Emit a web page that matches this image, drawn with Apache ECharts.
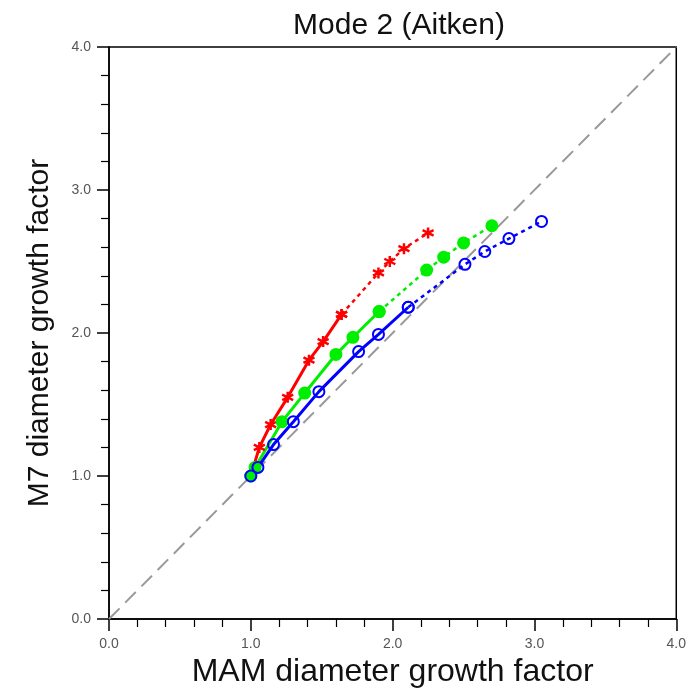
<!DOCTYPE html>
<html>
<head>
<meta charset="utf-8">
<script src="https://cdn.jsdelivr.net/npm/echarts@6/dist/echarts.min.js"></script>
<style>
html,body{margin:0;padding:0;background:#fff;}
#chart{width:689px;height:696px;}
</style>
</head>
<body>
<div id="chart"></div>
<script>
// MAM vs M7 growth factor, mode 2
var redX = [1.0, 1.06, 1.14, 1.26, 1.41, 1.51, 1.64, 1.90, 1.98, 2.08, 2.25];
var redY = [1.0, 1.20, 1.36, 1.55, 1.81, 1.94, 2.13, 2.42, 2.50, 2.59, 2.70];
var greenX = [1.0, 1.03, 1.22, 1.38, 1.60, 1.72, 1.905, 2.24, 2.36, 2.50, 2.70];
var greenY = [1.0, 1.06, 1.38, 1.58, 1.85, 1.97, 2.15, 2.44, 2.53, 2.63, 2.75];
var blueX = [1.0, 1.05, 1.16, 1.30, 1.48, 1.76, 1.90, 2.11, 2.51, 2.65, 2.82, 3.05];
var blueY = [1.0, 1.06, 1.22, 1.38, 1.59, 1.87, 1.99, 2.18, 2.48, 2.57, 2.66, 2.78];
// last index of the solid part of each curve
var redSplit = 6, greenSplit = 6, blueSplit = 7;
var oneToOne = [[0, 0], [4, 4]];

function pairs(xs, ys, from, to) {
    var out = [];
    for (var i = from; i <= to; i++) out.push([xs[i], ys[i]]);
    return out;
}

var starPath = 'path://M0,-10L0,10M-8.66,-5L8.66,5M-8.66,5L8.66,-5';

function curve(xs, ys, split, color, symbol, fill, bw) {
    var item = {color: fill, borderColor: color, borderWidth: bw};
    return [{
        type: 'line', data: pairs(xs, ys, 0, split), symbol: symbol, symbolSize: 11,
        lineStyle: {color: color, width: 3}, itemStyle: item, z: 3
    }, {
        type: 'line', data: pairs(xs, ys, split, xs.length - 1), symbol: symbol, symbolSize: 11,
        lineStyle: {color: color, width: 2.5, type: [4, 4]}, itemStyle: item, z: 3
    }];
}

var axisCommon = {
    type: 'value', min: 0, max: 4, interval: 1,
    axisLine: {show: true, lineStyle: {color: '#000', width: 1.5}},
    axisTick: {show: true, inside: false, length: 12, lineStyle: {color: '#000', width: 1.5}},
    minorTick: {show: true, splitNumber: 5, length: 8, lineStyle: {color: '#000', width: 1.2}},
    splitLine: {show: false},
    axisLabel: {color: '#555', fontSize: 14, margin: 18, fontFamily: 'Liberation Sans', formatter: function (v) { return v.toFixed(1); }},
    nameLocation: 'middle'
};

var chart = echarts.init(document.getElementById('chart'));
var series = [{
    type: 'line', data: oneToOne, symbol: 'none', silent: true, z: 1,
    lineStyle: {color: '#999', width: 2, type: [15, 8]}
}];
series = series.concat(curve(redX, redY, redSplit, '#f00', starPath, '#f00', 2.5));
series = series.concat(curve(greenX, greenY, greenSplit, '#0e0', 'circle', '#0e0', 2));
series = series.concat(curve(blueX, blueY, blueSplit, '#00f', 'circle', 'transparent', 2));

chart.setOption({
    animation: false,
    title: {
        text: 'Mode 2 (Aitken)', left: 394, top: 6, textAlign: 'center',
        textStyle: {color: '#111', fontSize: 30, fontWeight: 'normal', fontFamily: 'Liberation Sans'}
    },
    grid: {left: 109, right: 9, top: 47, bottom: 77, show: true, borderColor: '#000', borderWidth: 1.5},
    xAxis: Object.assign({}, axisCommon, {
        name: 'MAM diameter growth factor', nameGap: 37,
        nameTextStyle: {color: '#111', fontSize: 32, fontFamily: 'Liberation Sans'}
    }),
    yAxis: Object.assign({}, axisCommon, {
        name: 'M7 diameter growth factor', nameGap: 54,
        nameTextStyle: {color: '#111', fontSize: 30, fontFamily: 'Liberation Sans'}
    }),
    series: series
});
</script>
</body>
</html>
